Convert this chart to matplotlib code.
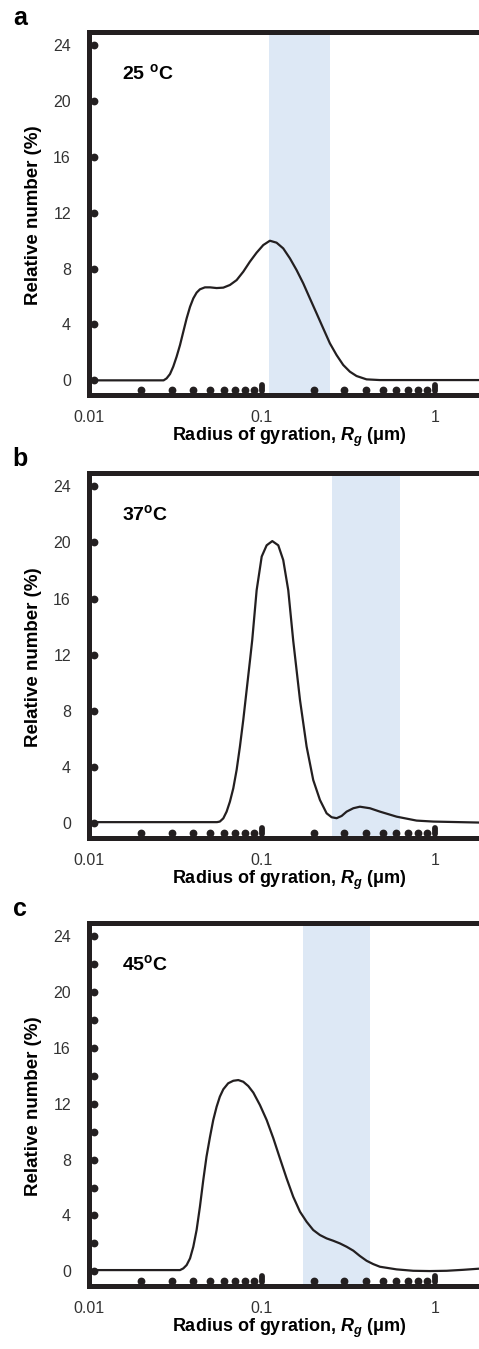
import matplotlib
matplotlib.use("Agg")
import matplotlib.pyplot as plt
import matplotlib.transforms as mtransforms

plt.rcParams['font.family'] = ['Liberation Sans', 'DejaVu Sans']
plt.rcParams['mathtext.fontset'] = 'custom'
plt.rcParams['mathtext.it'] = 'Liberation Sans:italic:bold'
plt.rcParams['mathtext.rm'] = 'Liberation Sans:bold'

# size distributions (x = Rg in um, y = relative number in %)
xA = [0.01, 0.027, 0.0281, 0.0294, 0.0307, 0.0321, 0.0336, 0.0351, 0.0367, 0.0384,
      0.0401, 0.0419, 0.0438, 0.0468, 0.0501, 0.0547, 0.0598, 0.0653, 0.0714, 0.078,
      0.0852, 0.0931, 0.1018, 0.1112, 0.1215, 0.1328, 0.1451, 0.1586, 0.1733, 0.1894,
      0.207, 0.2262, 0.2472, 0.2702, 0.2952, 0.3226, 0.3525, 0.4027, 0.481, 1.8]
yA = [0.0, 0.0, 0.14, 0.45, 0.98, 1.69, 2.53, 3.48, 4.44, 5.27,
      5.87, 6.28, 6.52, 6.66, 6.66, 6.61, 6.64, 6.83, 7.18, 7.78,
      8.5, 9.14, 9.69, 10.0, 9.86, 9.45, 8.74, 7.9, 6.95, 5.87,
      4.8, 3.72, 2.65, 1.81, 1.1, 0.62, 0.31, 0.07, 0.02, 0.02]

xB = [0.01, 0.055, 0.0571, 0.0598, 0.0625, 0.0653, 0.0683, 0.0714, 0.0746, 0.078,
      0.0816, 0.0853, 0.0879, 0.0932, 0.0997, 0.1065, 0.1148, 0.1243, 0.1328, 0.142,
      0.1517, 0.166, 0.1813, 0.198, 0.2165, 0.2366, 0.2529, 0.2703, 0.289, 0.309,
      0.3377, 0.3685, 0.421, 0.481, 0.601, 0.784, 0.98, 1.8]
yB = [0.08, 0.08, 0.12, 0.35, 0.83, 1.54, 2.49, 3.8, 5.46, 7.36,
      9.5, 11.6, 13.06, 16.6, 19.0, 19.8, 20.1, 19.8, 18.75, 16.6,
      13.0, 8.78, 5.46, 3.08, 1.66, 0.71, 0.43, 0.36, 0.52, 0.83,
      1.07, 1.18, 1.07, 0.83, 0.47, 0.19, 0.12, 0.05]

xC = [0.01, 0.0336, 0.0351, 0.0367, 0.0384, 0.0401, 0.0419, 0.0438, 0.0458, 0.0478,
      0.0501, 0.0523, 0.0547, 0.0571, 0.0598, 0.0638, 0.0683, 0.073, 0.078, 0.0834,
      0.0892, 0.0974, 0.1065, 0.1164, 0.1271, 0.1389, 0.1517, 0.166, 0.1813, 0.198,
      0.2165, 0.2366, 0.2586, 0.2825, 0.309, 0.3377, 0.3685, 0.4027, 0.44, 0.481,
      0.601, 0.75, 0.935, 1.17, 1.46, 1.8]
yC = [0.09, 0.09, 0.21, 0.45, 0.93, 1.76, 2.96, 4.63, 6.54, 8.21,
      9.64, 10.84, 11.79, 12.51, 13.04, 13.47, 13.65, 13.7, 13.58, 13.27,
      12.8, 11.91, 10.84, 9.53, 8.09, 6.66, 5.34, 4.27, 3.55, 2.96,
      2.6, 2.36, 2.19, 2.0, 1.76, 1.48, 1.1, 0.76, 0.52, 0.33,
      0.14, 0.04, 0.02, 0.04, 0.11, 0.19]

bands = [(0.11, 0.248), (0.255, 0.63), (0.172, 0.42)]
temps = ['25 $^\\mathregular{o}$C', '37$^\\mathregular{o}$C', '45$^\\mathregular{o}$C']
letters = ['a', 'b', 'c']
yticks_major = [0, 4, 8, 12, 16, 20, 24]

W, H = 479, 1349
ink = '#231f20'
# spine positions in pixels: top, bottom
boxes = [(32, 395), (473, 838), (923, 1286)]

fig = plt.figure(figsize=(W / 100, H / 100), dpi=100)

curves = [(xA, yA), (xB, yB), (xC, yC)]
for i, ((top, bot), (xs, ys)) in enumerate(zip(boxes, curves)):
    left = 89
    ax = fig.add_axes([left / W, 1 - bot / H, (W - left) / W, (bot - top) / H])
    ax.set_xscale('log')
    ax.set_xlim(0.01, 1.8)
    ax.set_ylim(-1.05, 24.95)
    ax.axvspan(bands[i][0], bands[i][1], color='#dde8f5', lw=0, zorder=0)
    ax.plot(xs, ys, color=ink, lw=1.6, zorder=3, solid_joinstyle='round')

    for s in ['left', 'top', 'bottom']:
        ax.spines[s].set_linewidth(3.6)
        ax.spines[s].set_color(ink)
    ax.spines['right'].set_visible(False)
    ax.tick_params(length=0)
    ax.set_xticks([0.01, 0.1, 1])
    ax.set_xticklabels(['0.01', '0.1', '1'], fontsize=11.5, color='#333333')
    ax.tick_params(axis='x', pad=11)
    ax.minorticks_off()
    ax.set_yticks(yticks_major)
    ax.set_yticklabels([str(v) for v in yticks_major], fontsize=11.5, color='#333333')
    ax.tick_params(axis='y', pad=13)

    # round tick dots along the spines
    ty = mtransforms.blended_transform_factory(ax.transAxes, ax.transData)
    ydots = list(range(0, 25, 2)) if i == 2 else yticks_major
    ax.plot([0.012] * len(ydots), ydots, 'o', ms=4.6, color=ink,
            transform=ty, clip_on=False, zorder=5)
    tx = mtransforms.blended_transform_factory(ax.transData, ax.transAxes)
    minor = [m * 0.01 for m in range(2, 10)] + [m * 0.1 for m in range(2, 10)]
    ax.plot(minor, [0.013] * len(minor), 'o', ms=4.6, color=ink,
            transform=tx, clip_on=False, zorder=5)
    for mx in [0.1, 1.0]:
        ax.plot([mx, mx], [0.01, 0.027], color=ink, lw=4.2,
                solid_capstyle='round', transform=tx, clip_on=False, zorder=5)

    fig.text(122 / W, 1 - (top + 41) / H, temps[i], fontsize=14,
             fontweight='bold', va='center', ha='left')
    fig.text(20 / W, 1 - (top - 14) / H, letters[i], fontsize=18,
             fontweight='bold', va='center', ha='center')
    fig.text(34 / W, 1 - ((top + bot) / 2 + 2) / H, 'Relative number (%)',
             rotation=90, fontsize=13.5, fontweight='bold', va='center', ha='center')
    fig.text(289 / W, 1 - (bot + 42) / H, 'Radius of gyration, $R_g$ (μm)',
             fontsize=13, fontweight='bold', va='center', ha='center')

fig.savefig('out.png', dpi=100)
